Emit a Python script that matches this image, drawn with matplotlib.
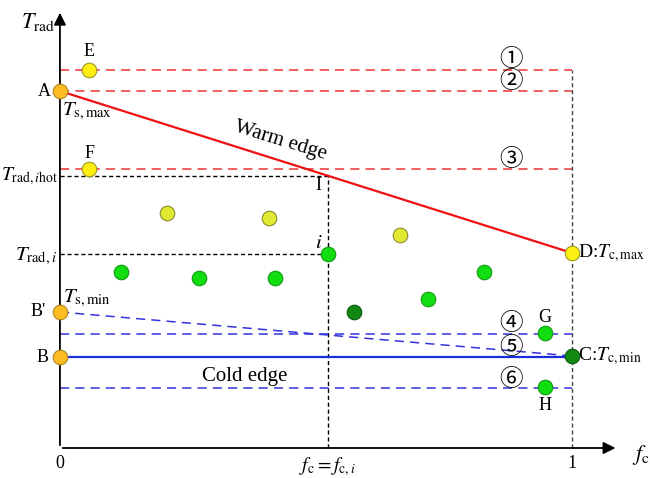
import matplotlib
matplotlib.use("Agg")
import matplotlib.pyplot as plt

plt.rcParams['font.family'] = ['Liberation Serif', 'DejaVu Serif']
plt.rcParams['mathtext.fontset'] = 'stix'

# f_c (x) and T_rad (y, arbitrary units)
fc_i = 0.523
t_hot = 2.72
t_i = 1.94

warm_x = [0.0, 1.0]
warm_y = [3.57, 1.95]          # A -> D
cold_y = 0.91                  # B -> C
dash_bp_y = [1.36, 0.92]       # B' -> C

red_levels = [3.78, 3.57, 2.79]     # lines 1, 2, 3
blue_levels = [1.14, 0.60]          # lines 4, 6
circled = ['①', '②', '③', '④', '⑤', '⑥']
circled_y = [3.88, 3.67, 2.89, 1.24, 1.01, 0.68]

yellow_x = [0.209, 0.408, 0.664]
yellow_y = [2.35, 2.30, 2.13]
green_x = [0.119, 0.271, 0.420, 0.719, 0.828, 0.523, 0.947, 0.947]
green_y = [1.76, 1.70, 1.70, 1.49, 1.76, 1.94, 1.15, 0.61]
dark_x = [0.574, 1.0]
dark_y = [1.36, 0.92]
ef_x = [0.057, 0.057]
ef_y = [3.78, 2.79]
orange_x = [0.0, 0.0, 0.0]
orange_y = [3.57, 1.36, 0.91]

fig = plt.figure(figsize=(6.5, 4.78), dpi=100)
ax = fig.add_axes([0, 0, 1, 1])
ax.set_xlim(-0.117, 1.152)
ax.set_ylim(-0.30, 4.48)
ax.axis('off')

# axes with arrows
ax.annotate('', xy=(1.09, 0), xytext=(0, 0),
            arrowprops=dict(arrowstyle='-|>', color='black', lw=1.3, mutation_scale=18))
ax.annotate('', xy=(0, 4.38), xytext=(0, 0),
            arrowprops=dict(arrowstyle='-|>', color='black', lw=1.3, mutation_scale=18))

# reference lines
for y in red_levels:
    ax.plot([0, 1], [y, y], color='#ee3333', lw=1.1, ls=(0, (6, 4)))
for y in blue_levels:
    ax.plot([0, 1], [y, y], color='#3333dd', lw=1.1, ls=(0, (6, 4)))
ax.plot([1, 1], [0, red_levels[0]], color='#444444', lw=1.0, ls=(0, (3, 2)))
ax.plot([0, fc_i], [t_hot, t_hot], color='black', lw=1.0, ls=(0, (3, 2)))
ax.plot([0, fc_i], [t_i, t_i], color='black', lw=1.0, ls=(0, (3, 2)))
ax.plot([fc_i, fc_i], [0, t_hot], color='black', lw=1.0, ls=(0, (3, 2)))

# edges
ax.plot(warm_x, warm_y, color='#ee1111', lw=1.6)
ax.plot([0, 1], [cold_y, cold_y], color='#1a2ee0', lw=1.6)
ax.plot([0, 1], dash_bp_y, color='#3333dd', lw=1.1, ls=(0, (6, 4)))

# points
ms = 110
ax.scatter(yellow_x, yellow_y, s=ms, c='#e0e830', edgecolors='#8a8a30', lw=0.8, zorder=5)
ax.scatter(green_x, green_y, s=ms, c='#11dd11', edgecolors='#119911', lw=0.8, zorder=5)
ax.scatter(dark_x, dark_y, s=ms, c='#118811', edgecolors='#0a5a0a', lw=0.8, zorder=5)
ax.scatter(ef_x + [1.0], ef_y + [warm_y[1]], s=ms, c='#ffee11', edgecolors='#999922', lw=0.8, zorder=5)
ax.scatter(orange_x, orange_y, s=ms, c='#ffbb22', edgecolors='#aa8822', lw=0.8, zorder=5)

fs = 13
ax.text(-0.042, 4.26, r'$T_{\mathrm{rad}}$', fontsize=16, ha='center', va='center')
ax.text(1.135, -0.07, r'$f_{\mathrm{c}}$', fontsize=16, ha='center', va='center')
ax.text(0, -0.16, '0', fontsize=fs, ha='center', va='center')
ax.text(1, -0.16, '1', fontsize=fs, ha='center', va='center')
ax.text(fc_i, -0.19, r'$f_{\mathrm{c}}=f_{\mathrm{c},i}$', fontsize=14, ha='center', va='center')

ax.text(0.057, 3.96, 'E', fontsize=fs, ha='center', va='center')
ax.text(0.057, 2.95, 'F', fontsize=fs, ha='center', va='center')
ax.text(0.947, 1.30, 'G', fontsize=fs, ha='center', va='center')
ax.text(0.947, 0.43, 'H', fontsize=fs, ha='center', va='center')
ax.text(-0.03, 3.57, 'A', fontsize=fs, ha='center', va='center')
ax.text(-0.042, 1.36, "B'", fontsize=fs, ha='center', va='center')
ax.text(-0.034, 0.91, 'B', fontsize=fs, ha='center', va='center')
ax.text(0.004, 3.37, r'$T_{\mathrm{s,max}}$', fontsize=15, ha='left', va='center')
ax.text(0.006, 1.50, r'$T_{\mathrm{s,min}}$', fontsize=15, ha='left', va='center')
ax.text(-0.004, t_hot, r'$T_{\mathrm{rad},i\mathrm{hot}}$', fontsize=14, ha='right', va='center')
ax.text(-0.006, t_i - 0.02, r'$T_{\mathrm{rad},i}$', fontsize=15, ha='right', va='center')
ax.text(1.012, warm_y[1], r'D:$T_{\mathrm{c,max}}$', fontsize=14, ha='left', va='center')
ax.text(1.012, dark_y[1], r'C:$T_{\mathrm{c,min}}$', fontsize=14, ha='left', va='center')
ax.text(fc_i - 0.018, 2.63, 'I', fontsize=fs, ha='center', va='center')
ax.text(fc_i - 0.018, 2.05, r'$i$', fontsize=15, ha='center', va='center')
ax.text(0.43, 3.07, 'Warm edge', fontsize=15, ha='center', va='center', rotation=-17)
ax.text(0.36, 0.71, 'Cold edge', fontsize=15, ha='center', va='center')
for lab, y in zip(circled, circled_y):
    ax.text(0.88, y, lab, fontsize=17, ha='center', va='center',
            family=['Noto Sans CJK SC', 'DejaVu Sans'])

fig.savefig('out.png', dpi=100)
